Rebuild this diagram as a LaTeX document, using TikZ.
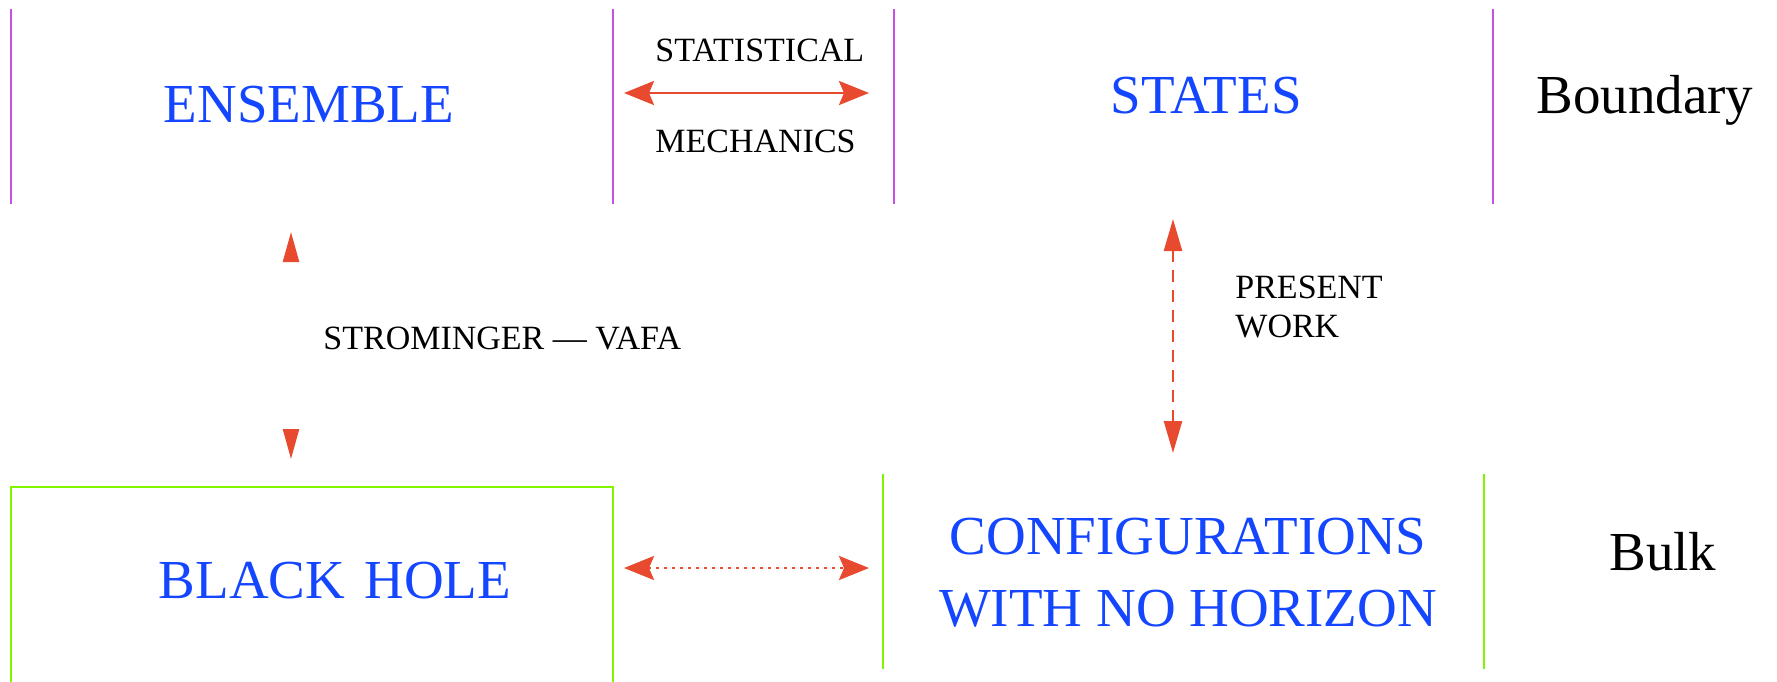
\documentclass[tikz,border=0pt]{standalone}
\usepackage{fontspec}
\setmainfont{Liberation Serif}
\usetikzlibrary{arrows.meta}
\definecolor{txtblue}{RGB}{20,70,255}
\definecolor{arrred}{RGB}{232,74,47}
\definecolor{linepurple}{RGB}{196,80,230}
\definecolor{linegreen}{RGB}{128,245,0}
\tikzset{
  big/.style={font=\fontsize{27.5}{37}\selectfont, inner sep=0pt},
  bigblue/.style={big, text=txtblue},
  small/.style={font=\fontsize{17}{20}\selectfont, inner sep=0pt},
  pline/.style={draw=linepurple, line width=1pt},
  gline/.style={draw=linegreen, line width=1.3pt},
  tipH/.style={{Stealth[length=15pt,width=12pt,inset=2.5pt]}-{Stealth[length=15pt,width=12pt,inset=2.5pt]}},
  vtip/.style={draw=arrred, line width=1.2pt, -{Triangle[length=15pt,width=8pt]}},
}
\begin{document}
\begin{tikzpicture}[x=0.5pt,y=-0.5pt]
\useasboundingbox (0,0) rectangle (1777,681);
% top row open boxes (purple sides)
\draw[pline] (11,9) -- (11,204);
\draw[pline] (613,9) -- (613,204);
\draw[pline] (894,9) -- (894,204);
\draw[pline] (1493,9) -- (1493,204);
% bottom row
\draw[gline] (11,700) -- (11,487) -- (613,487) -- (613,700);
\draw[gline] (883,474) -- (883,669);
\draw[gline] (1484,474) -- (1484,669);
% texts
\node[bigblue, anchor=base] (ens) at (309,122) {ENSEMBLE};
\node[bigblue, anchor=base] (states) at (1206,113) {STATES};
\node[big, anchor=base west] (bnd) at (1536,113) {Boundary};
\node[small, anchor=base west] (stat) at (655,61) {STATISTICAL};
\node[small, anchor=base west] (mech) at (655,152) {MECHANICS};
\node[small, anchor=base west] (sv) at (323,349) {STROMINGER --- VAFA};
\node[small, anchor=base west] (pw1) at (1235,298) {PRESENT};
\node[small, anchor=base west] (pw2) at (1235,337) {WORK};
\node[bigblue, anchor=base] (bh) at (335,598) {BLACK\hspace{0.35em}HOLE};
\node[bigblue, anchor=base] (conf1) at (1188,554) {CONFIGURATIONS};
\node[bigblue, anchor=base] (conf2) at (1188,626) {WITH NO HORIZON};
\node[big, anchor=base west] (bulk) at (1609,570) {Bulk};
% connector end points
\coordinate (smL) at (624,93);
\coordinate (smR) at (869,93);
\coordinate (svT) at (291,232);
\coordinate (svTb) at (291,262);
\coordinate (svB) at (291,459);
\coordinate (svBb) at (291,429);
\coordinate (pwT) at (1173,219);
\coordinate (pwB) at (1173,453);
\coordinate (dtL) at (624,568);
\coordinate (dtR) at (869,568);
% statistical mechanics arrow
\draw[draw=arrred, line width=1.4pt, tipH, arrred] (smL) -- (smR);
% Strominger-Vafa: only arrow heads
\draw[vtip] (svTb) -- (svT);
\draw[vtip] (svBb) -- (svB);
% present work dashed arrow
\draw[draw=arrred, line width=1.2pt, dash pattern=on 6pt off 4pt,
  {Triangle[length=16pt,width=9pt]}-{Triangle[length=16pt,width=9pt]}, arrred] (pwT) -- (pwB);
% dotted arrow
\draw[draw=arrred, line width=1.3pt, dash pattern=on 1.5pt off 2.5pt,
  tipH, arrred] (dtL) -- (dtR);
\end{tikzpicture}
\end{document}
